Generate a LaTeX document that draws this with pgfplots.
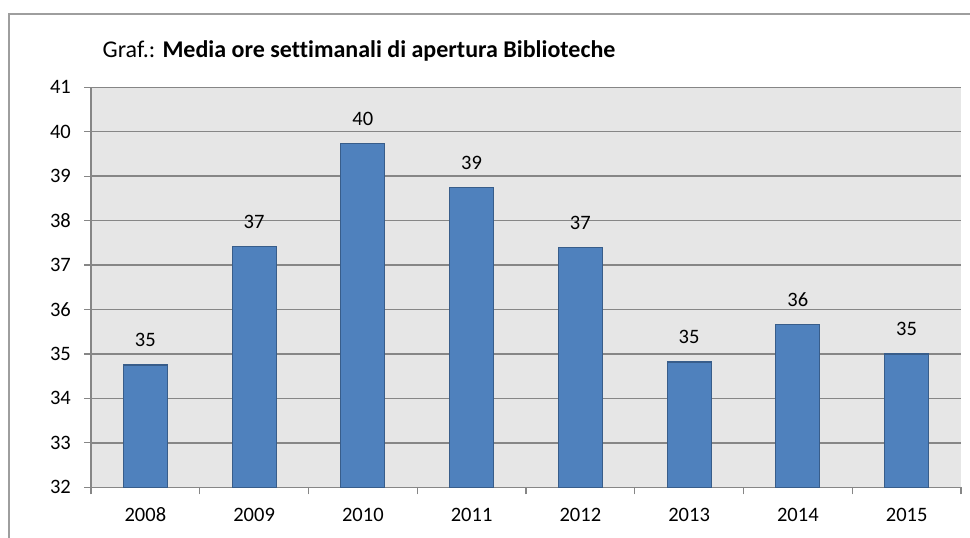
\documentclass[border=0pt]{standalone}
\usepackage{fontspec}
\setmainfont{Carlito}[Ligatures=CommonOff]
\usepackage{pgfplots}
\pgfplotsset{compat=1.18}
\pgfkeys{/pgf/number format/assume math mode=true}

\definecolor{barblue}{HTML}{4F81BD}
\definecolor{baredge}{HTML}{385D8A}
\definecolor{plotbg}{HTML}{E6E6E6}
\definecolor{gridgray}{HTML}{868686}

\begin{document}
\begin{tikzpicture}[x=1bp,y=1bp]
% cornice esterna (solo lato sinistro e superiore visibili)
\draw[gridgray!80, line width=1.5bp] (9,0) -- (9,524) -- (970,524);

\node[anchor=base west, font=\fontsize{24bp}{28bp}\selectfont, inner sep=0pt]
  at (102.5,480.3) {Graf.: \textbf{Media ore settimanali di apertura Biblioteche}};

\begin{axis}[
  at={(91bp,50.7bp)}, anchor=south west,
  scale only axis,
  width=870bp, height=400bp,
  xmin=-0.5, xmax=7.5,
  ymin=32, ymax=41,
  ytick={32,33,...,41},
  xtick={0,...,7},
  xticklabels={2008,2009,2010,2011,2012,2013,2014,2015},
  minor xtick={-0.5,0.5,...,7.5},
  axis background/.style={fill=plotbg},
  axis x line*=bottom,
  axis y line*=left,
  axis line style={gridgray, line width=1.5bp, -},
  ymajorgrids,
  grid style={gridgray, line width=1.5bp},
  major x tick style={draw=none},
  minor x tick style={gridgray, line width=1.2bp},
  major y tick style={gridgray, line width=1.2bp},
  tick align=outside,
  major tick length=7bp,
  minor tick length=7bp,
  ticklabel style={font=\fontsize{20.5bp}{24bp}\selectfont, text=black, inner sep=0pt},
  yticklabel style={anchor=east, xshift=-13bp},
  xticklabel style={anchor=base, yshift=-27.5bp},
  bar width=44bp,
  nodes near coords,
  nodes near coords style={font=\fontsize{20.5bp}{24bp}\selectfont, anchor=south,
    inner sep=0pt, yshift=17.5bp, /pgf/number format/fixed,
    /pgf/number format/precision=0},
  clip=false,
]
\addplot[ybar, fill=barblue, draw=baredge, line width=1.2bp] coordinates {
(0,34.75) (1,37.41) (2,39.73) (3,38.75) (4,37.40) (5,34.82) (6,35.66) (7,35.00)
};
\end{axis}

\pgfresetboundingbox
\useasboundingbox (0,0) rectangle (970,538);
\end{tikzpicture}
\end{document}
